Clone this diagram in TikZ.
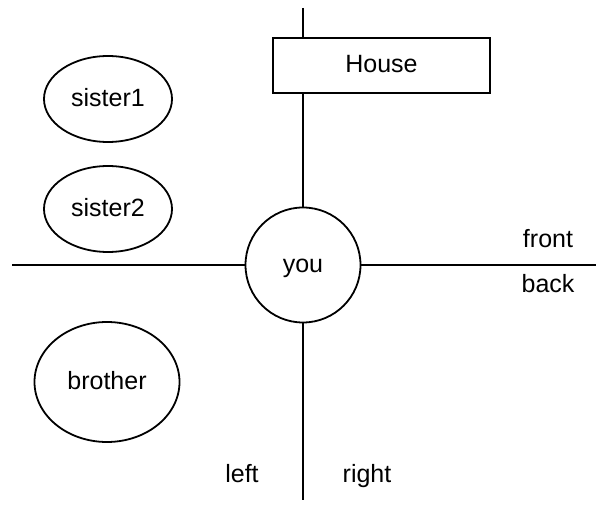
\documentclass[tikz,border=0pt]{standalone}
\usepackage{fontspec}
\setmainfont{Liberation Sans}
\usetikzlibrary{positioning}
\usetikzlibrary{shapes.geometric}

\begin{document}
\begin{tikzpicture}[x=0.5pt,y=-0.5pt,line width=0.9pt,
  every node/.style={font=\fontsize{12.5}{15}\selectfont,inner sep=0pt,
    text height=0.72em,text depth=0pt},
  kid/.style={draw,ellipse,minimum width=64pt,minimum height=43pt},
  self/.style={draw,circle,minimum size=57.5pt},
  place/.style={draw,fill=white,minimum width=108.5pt,minimum height=27.5pt}]
\useasboundingbox (0,0) rectangle (600,513);
  \node[self] (you) at (303,265) {you};
  \coordinate (top) at (303,8);
  \coordinate (bottom) at (303,500);
  \coordinate (west) at (12,265);
  \coordinate (east) at (596,265);
  \draw (top) -- (you) -- (bottom)
    (west) -- (you) -- (east);
  \node[place] (house) at (381.5,65.5) {House};
  \node[kid] (sister1) at (108,99) {sister1};
  \node[kid] (sister2) at (108,209) {sister2};
  \node[kid,minimum width=72.5pt,minimum height=60pt] (brother) at (107,382) {brother};
  \node (left) at (242,475) {left};
  \node (right) at (367,475) {right};
  \node (front) at (548,240) {front};
  \node (back) at (548,285) {back};
\end{tikzpicture}
\end{document}
